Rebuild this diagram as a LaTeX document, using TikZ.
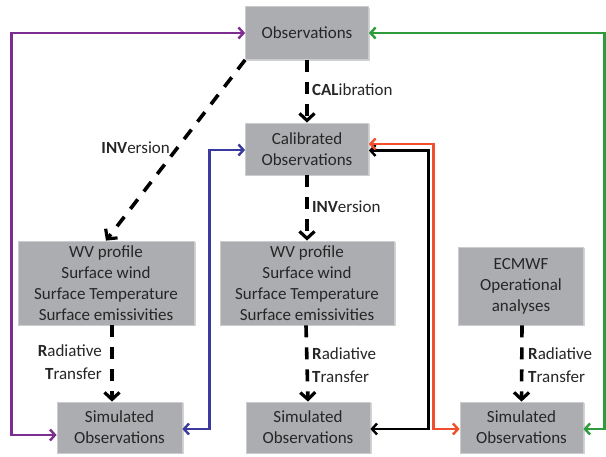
\documentclass[tikz,border=0pt]{standalone}
\usepackage{fontspec}
\setmainfont{Carlito}
\usetikzlibrary{arrows.meta,shadows}
\usepackage{xcolor}
\definecolor{BoxGray}{HTML}{ABADB0}
\definecolor{BoxEdge}{HTML}{CBCCCE}
\definecolor{LinkPurple}{HTML}{7D2C8F}
\definecolor{LinkBlue}{HTML}{3B3A9E}
\definecolor{LinkRed}{HTML}{F04E2C}
\definecolor{LinkGreen}{HTML}{2E9C3A}

\begin{document}
\begin{tikzpicture}[x=1pt,y=-1pt,
  box/.style={draw=BoxEdge,line width=0.8pt,fill=BoxGray,inner sep=0pt,align=center,
    font=\fontsize{17}{21}\selectfont,text=black!85,
    drop shadow={shadow xshift=1.5pt,shadow yshift=-1.5pt,opacity=0.35}},
  flow/.style={line width=3.6pt,dash pattern=on 12pt off 10pt,
    -{Straight Barb[length=7pt,width=15pt,line width=3.2pt]}},
  link/.style={line width=2.4pt,
    {Straight Barb[length=5pt,width=11pt]}-{Straight Barb[length=5pt,width=11pt]}},
  lbl/.style={font=\fontsize{17}{23}\selectfont,inner sep=0pt,text=black!85}]
  \useasboundingbox (0,0) rectangle (606,457);

  % boxes
  \node[box,minimum width=123pt,minimum height=53pt] (obs) at (307,33) {Observations};
  \node[box,minimum width=123pt,minimum height=52pt] (calib) at (307,149) {Calibrated\\Observations};
  \node[box,minimum width=176pt,minimum height=84pt] (wvl) at (106,283)
    {WV profile\\Surface wind\\Surface Temperature\\Surface emissivities};
  \node[box,minimum width=174pt,minimum height=84pt] (wvm) at (307,283)
    {WV profile\\Surface wind\\Surface Temperature\\Surface emissivities};
  \node[box,minimum width=125pt,minimum height=78pt] (ecmwf) at (521,286)
    {ECMWF\\Operational\\analyses};
  \node[box,minimum width=125pt,minimum height=51pt] (siml) at (119.5,427.5) {Simulated\\Observations};
  \node[box,minimum width=124pt,minimum height=51pt] (simm) at (308,427.5) {Simulated\\Observations};
  \node[box,minimum width=123pt,minimum height=51pt] (simr) at (521.5,427.5) {Simulated\\Observations};

  % processing steps
  \draw[flow] (obs) -- (calib);
  \node[lbl,anchor=west] (calLbl) at (312,90) {\textbf{CAL}ibration};
  \draw[flow] (obs.south west) -- (wvl.north);
  \node[lbl,anchor=east] (invLeft) at (170,148) {\textbf{INV}ersion};
  \draw[flow] (calib) -- (wvm);
  \node[lbl,anchor=west] (invMid) at (312,207) {\textbf{INV}ersion};
  \draw[flow] ([xshift=6pt]wvl.south) -- ([xshift=-7.5pt]siml.north);
  \node[lbl,anchor=east,align=right] (rtLeft) at (102,362) {\textbf{R}adiative\\\textbf{T}ransfer};
  \draw[flow] ([xshift=-1pt]wvm.south) -- (simm.north);
  \node[lbl,anchor=west,align=left] (rtMid) at (312,365) {\textbf{R}adiative\\\textbf{T}ransfer};
  \draw[flow] ([xshift=1pt]ecmwf.south) -- (simr.north);
  \node[lbl,anchor=west,align=left] (rtRight) at (528,365) {\textbf{R}adiative\\\textbf{T}ransfer};

  % comparisons
  \draw[link,LinkPurple] ([yshift=-7.5pt]siml.west) -- ++(-45,0) |- (obs.west);
  \draw[link,LinkBlue] ([yshift=-1.5pt]siml.east) -- ++(27,0) |- ([yshift=-1pt]calib.west);
  \draw[link,black] ([yshift=-1.5pt]simm.east) -- ++(58,0) |- ([yshift=-1.5pt]calib.east);
  \draw[link,LinkRed] ([yshift=-1.5pt]simr.west) -- ++(-26,0) |- ([yshift=5pt]calib.east);
  \draw[link,LinkGreen] ([yshift=-1.5pt]simr.east) -- ++(21,0) |- (obs.east);
\end{tikzpicture}
\end{document}
